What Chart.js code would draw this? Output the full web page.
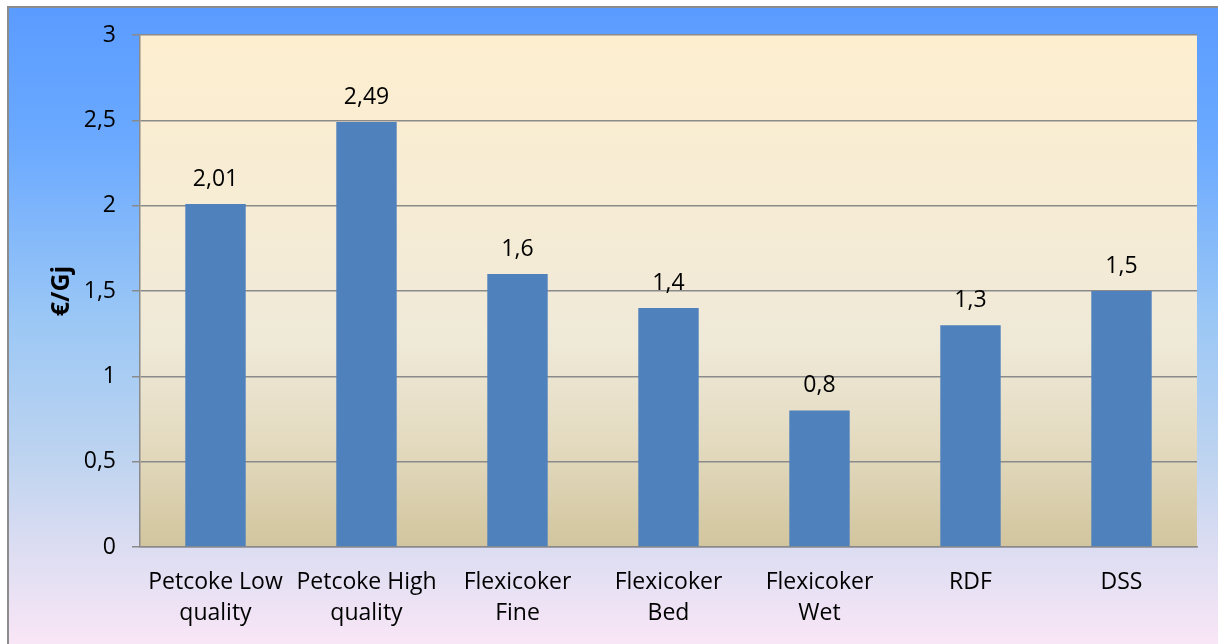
<!DOCTYPE html>
<html>
<head>
<meta charset="utf-8">
<title>€/Gj</title>
<style>
  html, body { margin: 0; padding: 0; background: #ffffff; }
  #wrap { width: 1218px; height: 644px; position: relative; }
</style>
<script src="https://cdn.jsdelivr.net/npm/chart.js@4/dist/chart.umd.min.js"></script>
</head>
<body>
<div id="wrap"><canvas id="chart" width="1218" height="644"></canvas></div>
<script>
// Fuel cost per gigajoule
const categories = [
  ['Petcoke Low', 'quality'],
  ['Petcoke High', 'quality'],
  ['Flexicoker', 'Fine'],
  ['Flexicoker', 'Bed'],
  ['Flexicoker', 'Wet'],
  ['RDF'],
  ['DSS']
];
const costPerGj = [2.01, 2.49, 1.6, 1.4, 0.8, 1.3, 1.5];
const yTicks = [0, 0.5, 1, 1.5, 2, 2.5, 3];
const yTitle = '€/Gj';

const FONT = '"Open Sans", "Noto Sans", sans-serif';
const GRID = '#8a8a8a';

const decimalComma = v => String(v).replace('.', ',');

// Frame and plot-area gradients
const backgroundPlugin = {
  id: 'backgrounds',
  beforeDraw(chart) {
    const { ctx, chartArea: a, width, height } = chart;
    ctx.save();
    ctx.fillStyle = '#ffffff';
    ctx.fillRect(0, 0, width, height);

    // outer frame
    const fx = 7, fy = 6;
    const outer = ctx.createLinearGradient(0, fy, 0, height);
    outer.addColorStop(0.00, '#5a9bff');
    outer.addColorStop(0.22, '#6caaff');
    outer.addColorStop(0.50, '#9cc8f5');
    outer.addColorStop(0.70, '#bcd3f0');
    outer.addColorStop(0.85, '#dcddf2');
    outer.addColorStop(1.00, '#f9e6f6');
    ctx.fillStyle = outer;
    ctx.fillRect(fx, fy, width - fx, height - fy);
    ctx.fillStyle = '#8c8c8c';
    ctx.fillRect(fx, fy, width - fx, 2);
    ctx.fillRect(fx, fy, 2, height - fy);

    // plot area
    const inner = ctx.createLinearGradient(0, a.top, 0, a.bottom);
    inner.addColorStop(0.00, '#fdeecf');
    inner.addColorStop(0.35, '#f6ecd5');
    inner.addColorStop(0.60, '#efe9d8');
    inner.addColorStop(0.80, '#e3dabf');
    inner.addColorStop(1.00, '#d2c59e');
    ctx.fillStyle = inner;
    ctx.fillRect(a.left, a.top, a.right - a.left, a.bottom - a.top);
    ctx.restore();
  }
};

// Value printed above each bar
const valueLabelPlugin = {
  id: 'valueLabels',
  afterDatasetsDraw(chart) {
    const { ctx } = chart;
    ctx.save();
    ctx.font = '23px ' + FONT;
    ctx.fillStyle = '#000000';
    ctx.textAlign = 'center';
    ctx.textBaseline = 'alphabetic';
    chart.data.datasets.forEach((ds, di) => {
      chart.getDatasetMeta(di).data.forEach((bar, i) => {
        ctx.fillText(decimalComma(ds.data[i]), bar.x, bar.y - 18);
      });
    });
    ctx.restore();
  }
};

Chart.defaults.color = '#000000';
Chart.defaults.font.family = FONT;

new Chart(document.getElementById('chart'), {
  type: 'bar',
  data: {
    labels: categories,
    datasets: [{
      data: costPerGj,
      backgroundColor: '#4f81bd',
      borderWidth: 0,
      categoryPercentage: 1,
      barPercentage: 0.4
    }]
  },
  options: {
    responsive: false,
    animation: false,
    devicePixelRatio: 1,
    layout: { padding: { left: 47, top: 35, right: 21, bottom: 0 } },
    plugins: {
      legend: { display: false },
      tooltip: { enabled: false }
    },
    scales: {
      x: {
        grid: { display: false },
        border: { display: true, color: GRID, width: 1.5 },
        ticks: {
          font: { size: 23, lineHeight: 1.35 },
          padding: 12,
          maxRotation: 0,
          autoSkip: false
        },
        afterFit(scale) { scale.height = 97; }
      },
      y: {
        min: 0,
        max: 3,
        afterBuildTicks(scale) { scale.ticks = yTicks.map(v => ({ value: v })); },
        grid: { color: GRID, lineWidth: 1.5, tickLength: 8, drawTicks: true },
        border: { display: true, color: GRID, width: 1.5 },
        ticks: {
          font: { size: 23 },
          padding: 16,
          callback: v => decimalComma(v)
        },
        title: {
          display: true,
          text: yTitle,
          font: { size: 25, weight: 'bold' },
          padding: 0
        },
        afterFit(scale) { scale.width = 93; }
      }
    }
  },
  plugins: [backgroundPlugin, valueLabelPlugin]
});
</script>
</body>
</html>
